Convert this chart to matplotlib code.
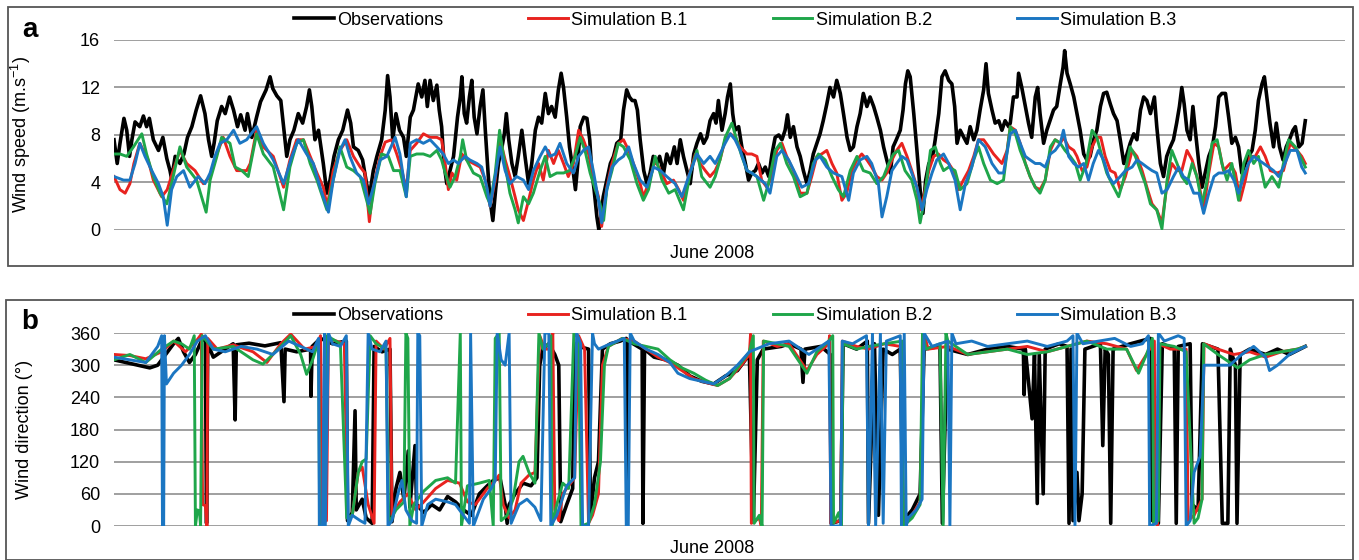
import matplotlib.pyplot as plt
from matplotlib.patches import Rectangle

plt.rcParams['font.family'] = ['Liberation Sans', 'DejaVu Sans']
plt.rcParams['mathtext.fontset'] = 'custom'
plt.rcParams['mathtext.rm'] = 'Liberation Sans'
plt.rcParams['mathtext.it'] = 'Liberation Sans'

# ---- panel a : wind speed (day of June 2008, m/s) ----
obs_speed = [(0.00,7.6),(0.08,5.6),(0.15,7.3),(0.25,9.4),(0.32,8.4),(0.39,6.2),(0.45,7.6),(0.53,9.1),(0.65,8.7),(0.74,9.6),(0.82,8.7),(0.89,9.4),(0.99,7.6),(1.12,6.7),(1.23,7.8),(1.33,6.0),(1.41,5.0),(1.45,4.3),(1.54,6.2),(1.66,5.6),(1.76,6.4),(1.85,7.8),(1.96,8.7),(2.07,10.1),(2.18,11.3),(2.29,9.8),(2.38,7.6),(2.46,6.2),(2.52,7.3),(2.60,9.2),(2.71,10.4),(2.80,9.8),(2.91,11.2),(3.01,10.1),(3.11,8.7),(3.19,9.7),(3.30,8.4),(3.36,9.8),(3.47,7.8),(3.59,9.5),(3.69,10.8),(3.83,11.8),(3.93,12.9),(4.00,11.9),(4.10,11.3),(4.20,10.9),(4.27,8.7),(4.35,6.2),(4.43,7.6),(4.53,8.4),(4.64,9.8),(4.75,9.0),(4.85,10.4),(4.92,11.8),(4.98,10.4),(5.06,7.6),(5.15,8.4),(5.27,5.6),(5.36,3.1),(5.44,4.2),(5.54,6.2),(5.65,7.6),(5.76,8.4),(5.88,10.1),(5.96,9.0),(6.03,7.0),(6.15,6.7),(6.26,5.9),(6.36,3.9),(6.43,2.8),(6.53,5.0),(6.62,6.2),(6.74,7.6),(6.83,10.1),(6.89,13.0),(6.95,11.2),(7.02,7.6),(7.10,9.8),(7.19,8.4),(7.29,7.8),(7.36,6.2),(7.46,9.5),
    (7.54,10.1),(7.66,12.3),(7.75,11.2),(7.83,12.6),(7.89,10.4),(7.96,12.6),(8.04,10.9),(8.13,12.2),(8.19,10.1),(8.25,8.7),(8.31,5.6),(8.38,3.9),(8.46,5.0),(8.55,6.2),(8.65,9.5),(8.72,11.2),(8.76,12.9),(8.82,9.8),(8.88,9.0),(8.95,11.2),(9.01,12.6),(9.07,9.5),(9.14,8.1),(9.22,10.4),(9.29,11.8),(9.35,8.4),(9.42,4.8),(9.47,2.5),(9.54,0.8),(9.61,3.4),(9.68,5.6),(9.77,7.0),(9.83,8.1),(9.88,9.8),(9.94,7.6),(10.02,5.6),(10.10,4.5),(10.18,6.2),(10.27,8.4),(10.35,6.2),(10.44,3.9),(10.52,5.6),(10.61,8.4),(10.69,9.5),(10.77,9.0),(10.86,11.5),(10.94,9.8),(11.02,10.4),(11.11,9.5),(11.19,11.8),(11.26,13.2),(11.32,12.0),(11.40,9.5),(11.47,7.0),(11.56,5.0),(11.62,3.4),(11.68,5.6),(11.74,8.7),(11.83,9.5),(11.91,9.4),(11.98,7.6),(12.03,5.0),(12.09,3.4),(12.16,1.1),(12.21,0.0),(12.26,1.1),(12.32,2.8),(12.41,4.2),(12.50,5.6),(12.58,6.2),(12.66,7.3),(12.76,7.6),(12.83,10.1),(12.91,11.8),(12.98,11.2),(13.05,10.9),(13.12,10.9),(13.18,10.1),(13.25,7.6),(13.34,5.0),(13.42,3.9),(13.50,4.8),(13.58,6.2),(13.67,5.6),(13.74,6.2),(13.84,4.8),(13.92,6.4),(14.01,5.6),(14.11,7.0),(14.18,5.6),(14.26,7.6),(14.34,6.2),(14.43,5.0),(14.51,3.9),(14.60,6.4),(14.68,7.3),(14.77,8.1),(14.85,7.3),(14.93,7.8),
    (15.01,9.2),(15.10,9.8),(15.16,9.0),(15.22,10.9),(15.31,8.4),(15.39,9.8),(15.45,11.2),(15.52,12.3),(15.58,9.8),(15.64,8.4),(15.73,8.7),(15.81,7.0),(15.90,5.6),(15.98,4.2),(16.06,4.8),(16.15,5.0),(16.23,5.6),(16.32,4.8),(16.40,5.3),(16.49,4.5),(16.57,6.4),(16.65,7.8),(16.74,8.0),(16.82,7.6),(16.90,8.4),(16.96,9.7),(17.03,7.8),(17.11,8.7),(17.20,7.0),(17.28,6.2),(17.36,5.0),(17.45,3.9),(17.53,5.0),(17.61,6.4),(17.70,7.3),(17.78,8.1),(17.86,9.2),(17.95,10.6),(18.03,12.0),(18.12,11.2),(18.20,12.6),(18.29,11.5),(18.37,9.8),(18.46,7.8),(18.54,6.7),(18.62,7.0),(18.71,8.7),(18.79,9.8),(18.87,11.5),(18.96,10.4),(19.04,11.2),(19.13,10.4),(19.21,9.5),(19.30,8.4),(19.38,7.0),(19.46,5.9),(19.55,4.8),(19.62,7.0),(19.70,7.6),(19.80,8.4),(19.87,10.1),(19.93,12.3),(19.99,13.4),(20.05,12.9),(20.14,9.8),(20.22,6.7),(20.30,3.4),(20.37,1.4),(20.44,4.2),(20.52,5.6),(20.60,5.9),(20.68,7.6),(20.77,9.8),(20.85,12.9),(20.93,13.4),(21.02,12.6),(21.10,12.3),(21.17,10.4),(21.23,7.3),(21.31,8.4),(21.40,7.8),(21.48,7.3),(21.56,8.7),(21.65,7.6),(21.73,8.4),(21.81,10.1),(21.90,11.8),(21.96,14.0),(22.02,11.5),(22.11,10.1),(22.19,9.0),(22.28,9.2),(22.36,8.4),(22.44,9.2),(22.53,8.7),
    (22.57,9.0),(22.65,11.2),(22.74,11.2),(22.78,13.2),(22.86,12.0),(22.94,10.6),(23.03,9.0),(23.11,7.8),(23.20,11.2),(23.26,12.0),(23.32,9.8),(23.41,7.3),(23.49,8.4),(23.57,9.2),(23.66,10.1),(23.74,10.4),(23.83,12.3),(23.90,13.7),(23.94,15.1),(24.00,13.2),(24.08,12.3),(24.17,11.2),(24.25,9.8),(24.33,8.4),(24.42,6.4),(24.50,5.9),(24.58,6.2),(24.67,7.6),(24.75,8.4),(24.84,10.4),(24.92,11.5),(25.00,11.6),(25.09,10.6),(25.17,9.8),(25.26,9.2),(25.34,7.6),(25.43,5.6),(25.51,6.4),(25.59,7.3),(25.68,8.1),(25.76,7.6),(25.85,10.1),(25.93,11.2),(26.01,10.9),(26.10,9.8),(26.20,11.2),(26.26,8.7),(26.35,5.6),(26.43,4.5),(26.51,6.2),(26.60,7.0),(26.68,7.6),(26.76,9.0),(26.83,10.4),(26.89,12.0),(26.95,10.6),(27.02,8.4),(27.10,7.6),(27.17,10.4),(27.23,8.4),(27.32,5.6),(27.40,3.6),(27.49,5.0),(27.57,6.2),(27.66,7.0),(27.74,8.7),(27.82,11.2),(27.90,11.5),(27.99,11.5),(28.07,9.5),(28.15,7.3),(28.24,7.8),(28.32,7.0),(28.40,4.8),(28.49,5.6),(28.57,6.2),(28.66,6.7),(28.74,8.4),(28.82,10.9),(28.91,12.3),(28.97,12.9),(29.03,11.2),(29.11,9.0),(29.20,7.0),(29.27,9.0),(29.35,7.0),(29.44,5.9),(29.52,7.0),(29.60,7.6),(29.69,8.4),(29.75,8.7),(29.84,7.0),(29.92,7.3),(30.00,9.2)]

b1_speed = [(0.00,4.5),(0.15,3.4),(0.28,3.1),(0.40,3.9),(0.50,5.6),(0.65,7.3),(0.74,6.7),(0.86,5.9),(0.99,4.2),(1.20,2.8),(1.34,3.4),(1.49,5.0),(1.66,6.7),(1.83,5.6),(2.04,5.0),(2.25,3.9),(2.42,4.5),(2.59,6.4),(2.75,7.8),(2.92,6.2),(3.09,5.0),(3.34,5.0),(3.43,5.6),(3.59,8.4),(3.76,7.0),(4.01,6.2),(4.27,3.6),(4.43,5.9),(4.60,7.6),(4.77,7.6),(4.94,6.2),(5.11,4.8),(5.27,3.6),(5.37,2.0),(5.52,5.0),(5.69,6.7),(5.86,7.6),(6.03,6.2),(6.20,5.3),(6.32,4.8),(6.43,0.7),(6.53,3.6),(6.70,6.2),(6.83,7.4),(6.99,7.6),(7.12,6.4),(7.25,5.0),(7.36,3.4),
    (7.46,6.7),(7.62,7.3),(7.79,8.1),(7.96,7.8),(8.13,7.8),(8.25,7.6),(8.34,5.6),(8.42,3.4),(8.51,4.8),(8.63,4.2),(8.76,6.4),(8.88,5.9),(9.05,5.6),(9.22,5.3),(9.35,4.2),(9.47,2.0),(9.60,4.2),(9.71,7.8),(9.85,5.9),(9.97,4.5),(10.10,2.8),(10.18,1.7),(10.31,0.8),(10.44,2.5),(10.56,4.2),(10.69,5.6),(10.81,4.2),(10.94,6.7),(11.07,5.6),(11.19,6.7),(11.32,5.6),(11.44,4.5),(11.57,5.6),(11.70,8.4),(11.82,7.6),(11.95,6.4),(12.08,4.2),(12.20,2.8),(12.28,0.3),(12.41,3.6),(12.54,5.6),(12.70,7.3),(12.83,7.6),(12.96,6.7),(13.08,5.6),(13.25,3.9),(13.33,2.8),(13.46,3.9),(13.63,5.9),(13.76,5.0),(13.92,3.9),(14.09,4.2),(14.22,3.4),(14.34,2.5),(14.47,4.5),(14.64,6.4),(14.76,5.6),(14.89,5.0),
    (15.01,4.5),(15.14,5.0),(15.26,5.9),(15.39,7.6),(15.52,8.1),(15.64,7.8),(15.77,7.0),(15.94,6.4),(16.06,6.4),(16.19,6.2),(16.31,4.2),(16.44,3.6),(16.57,4.5),(16.69,6.7),(16.82,7.3),(16.94,6.2),(17.11,5.0),(17.28,3.1),(17.45,3.1),(17.57,4.5),(17.70,6.2),(17.82,6.4),(17.95,6.7),(18.08,5.6),(18.20,4.8),(18.33,2.5),(18.45,3.1),(18.58,5.0),(18.71,5.9),(18.83,6.4),(18.96,5.9),(19.08,5.3),(19.21,4.5),(19.34,4.2),(19.46,4.8),(19.59,5.9),(19.71,6.7),(19.84,7.3),(19.97,6.2),(20.09,5.0),(20.22,3.6),(20.30,1.7),(20.39,2.8),(20.52,5.0),(20.64,6.2),(20.76,6.4),(20.89,5.9),(21.02,5.6),(21.14,5.0),(21.27,3.4),(21.39,4.2),(21.52,5.0),(21.65,6.2),(21.77,7.6),(21.90,7.6),(22.03,7.0),(22.15,6.4),(22.28,5.9),(22.36,5.6),(22.49,6.7),
    (22.57,8.7),(22.70,8.4),(22.82,7.3),(22.95,5.6),(23.07,4.5),(23.20,3.6),(23.32,3.4),(23.45,4.2),(23.58,6.7),(23.70,7.6),(23.83,7.3),(23.91,7.8),(24.04,7.0),(24.17,6.7),(24.25,6.2),(24.38,5.0),(24.50,5.3),(24.63,7.0),(24.75,7.8),(24.85,7.8),(24.96,6.2),(25.09,5.0),(25.21,4.8),(25.34,3.4),(25.47,4.5),(25.64,6.7),(25.76,6.2),(25.89,5.0),(26.01,3.6),(26.14,2.2),(26.26,1.7),(26.39,0.6),(26.52,3.9),(26.64,5.6),(26.77,5.0),(26.89,5.0),(27.02,6.7),(27.15,5.9),(27.32,3.9),(27.44,1.7),(27.57,4.8),(27.70,7.3),(27.82,7.0),(27.94,5.0),(28.11,5.6),(28.24,4.8),(28.36,2.5),(28.49,4.2),(28.61,6.2),(28.74,6.2),(28.87,7.0),(28.99,6.2),(29.12,5.0),(29.29,4.8),(29.45,5.0),(29.62,7.3),(29.79,6.7),(29.91,6.2),(30.00,5.6)]

b2_speed = [(0.00,6.4),(0.15,6.4),(0.32,6.2),(0.49,7.0),(0.70,8.1),(0.82,6.4),(0.99,4.5),(1.16,3.1),(1.33,2.2),(1.49,4.5),(1.66,7.0),(1.83,5.3),(2.08,4.2),(2.32,1.5),(2.42,4.2),(2.59,6.2),(2.71,7.8),(2.92,7.3),(3.05,5.3),(3.22,5.0),(3.38,4.5),(3.59,8.1),(3.76,6.4),(4.01,5.3),(4.27,1.7),(4.43,5.3),(4.60,7.3),(4.77,7.6),(4.94,5.6),(5.11,4.2),(5.36,1.7),(5.52,4.2),(5.69,7.0),(5.86,5.3),(6.03,5.0),(6.20,4.5),(6.36,2.5),(6.45,1.4),(6.57,3.9),(6.74,6.4),(6.91,6.2),(7.04,5.0),(7.20,5.0),(7.36,2.8),
    (7.46,6.2),(7.62,6.4),(7.79,6.4),(7.96,6.2),(8.13,6.7),(8.25,5.9),(8.34,4.8),(8.46,3.6),(8.59,4.5),(8.72,6.2),(8.78,7.6),(8.88,5.9),(9.05,4.8),(9.22,4.5),(9.39,2.8),(9.47,2.2),(9.60,4.8),(9.71,8.4),(9.81,6.2),(9.97,3.1),(10.10,1.7),(10.18,0.6),(10.31,2.8),(10.44,2.2),(10.56,3.1),(10.73,5.0),(10.86,6.2),(10.98,4.5),(11.15,4.8),(11.32,4.8),(11.47,5.0),(11.61,6.2),(11.74,7.8),(11.86,6.7),(11.99,4.8),(12.12,3.4),(12.24,2.2),(12.33,0.8),(12.41,3.4),(12.54,5.0),(12.70,7.3),(12.83,7.0),(13.00,5.9),(13.17,3.9),(13.33,2.5),(13.46,3.4),(13.63,6.2),(13.80,4.2),(13.97,3.1),(14.13,3.4),(14.34,1.7),(14.51,4.8),(14.68,6.7),(14.80,4.5),
    (15.01,3.6),(15.14,4.5),(15.26,5.9),(15.39,7.8),(15.56,9.0),(15.68,7.6),(15.81,6.2),(15.94,5.0),(16.06,4.8),(16.19,4.5),(16.36,2.5),(16.48,3.9),(16.65,6.7),(16.78,7.3),(16.94,5.6),(17.11,4.5),(17.28,2.8),(17.45,3.1),(17.61,5.6),(17.74,6.4),(17.91,5.9),(18.08,4.5),(18.24,3.4),(18.37,2.8),(18.54,5.0),(18.71,6.2),(18.87,5.0),(19.04,4.8),(19.21,3.9),(19.38,4.5),(19.51,5.6),(19.63,6.4),(19.76,6.7),(19.92,5.0),(20.09,4.2),(20.22,2.5),(20.30,0.6),(20.39,2.2),(20.56,6.7),(20.68,7.0),(20.81,5.6),(20.89,5.0),(21.02,5.3),(21.18,5.0),(21.31,3.4),(21.48,3.9),(21.65,5.9),(21.77,7.0),(21.90,5.6),(22.07,4.2),(22.24,3.9),(22.40,4.2),
    (22.57,8.7),(22.70,8.1),(22.82,6.7),(22.95,5.6),(23.07,4.5),(23.20,3.6),(23.32,3.1),(23.45,4.2),(23.58,7.0),(23.70,7.6),(23.83,7.3),(23.95,6.7),(24.08,6.2),(24.21,5.6),(24.33,4.2),(24.48,5.6),(24.63,8.4),(24.75,7.8),(24.88,6.2),(25.00,4.8),(25.13,3.9),(25.30,2.8),(25.42,4.2),(25.59,7.0),(25.72,6.2),(25.85,5.0),(25.97,3.9),(26.10,2.2),(26.26,1.7),(26.39,0.1),(26.52,4.2),(26.64,6.7),(26.77,5.6),(26.89,4.5),(27.02,3.9),(27.15,5.6),(27.27,4.5),(27.40,2.2),(27.53,4.2),(27.65,7.3),(27.78,7.6),(27.90,5.6),(28.03,4.2),(28.15,5.6),(28.32,2.5),(28.45,5.6),(28.57,6.7),(28.70,5.6),(28.82,6.2),(28.99,3.6),(29.16,4.5),(29.33,3.6),(29.45,5.6),(29.58,7.6),(29.75,7.0),(29.87,6.2),(30.00,5.3)]

b3_speed = [(0.00,4.5),(0.24,4.2),(0.40,4.2),(0.53,5.6),(0.65,7.3),(0.78,6.2),(0.95,5.0),(1.12,3.9),(1.24,2.8),(1.34,0.4),(1.45,3.4),(1.58,4.5),(1.75,5.0),(1.91,3.6),(2.12,4.5),(2.29,3.9),(2.42,4.8),(2.54,6.2),(2.67,7.3),(2.84,7.6),(3.01,8.4),(3.17,7.3),(3.34,7.6),(3.59,8.7),(3.76,7.3),(4.01,5.9),(4.27,3.9),(4.48,6.2),(4.64,7.6),(4.85,6.4),(5.02,5.6),(5.19,3.6),(5.40,1.5),(5.52,4.2),(5.69,6.7),(5.82,7.6),(5.94,6.2),(6.11,4.8),(6.28,4.2),(6.41,2.2),(6.53,3.6),(6.70,5.9),(6.87,6.2),(7.08,7.8),(7.20,6.4),(7.36,2.8),
    (7.46,7.3),(7.62,7.6),(7.79,7.3),(7.96,7.6),(8.13,7.0),(8.29,6.4),(8.42,5.6),(8.55,5.9),(8.67,5.6),(8.84,6.2),(8.96,5.9),(9.14,5.6),(9.26,5.3),(9.39,3.6),(9.47,2.0),(9.60,4.5),(9.72,7.0),(9.85,5.0),(9.97,3.9),(10.14,4.5),(10.31,4.2),(10.44,3.4),(10.56,5.0),(10.73,6.2),(10.86,7.0),(10.98,6.2),(11.11,6.4),(11.23,7.3),(11.40,5.6),(11.57,4.8),(11.70,6.2),(11.82,6.7),(11.95,7.0),(12.08,4.8),(12.20,2.5),(12.28,0.6),(12.41,3.4),(12.54,5.3),(12.70,5.9),(12.83,6.2),(12.96,7.0),(13.08,5.6),(13.25,4.2),(13.42,3.6),(13.59,5.3),(13.76,5.0),(13.92,4.5),(14.13,3.9),(14.30,2.8),(14.47,4.5),(14.68,6.4),(14.85,5.6),
    (15.01,6.2),(15.14,5.6),(15.26,6.4),(15.39,7.3),(15.52,8.1),(15.64,7.6),(15.77,6.7),(15.94,5.0),(16.06,4.8),(16.19,4.5),(16.40,3.9),(16.52,3.1),(16.69,6.2),(16.82,6.7),(16.99,5.9),(17.15,4.8),(17.32,3.6),(17.49,3.9),(17.66,5.9),(17.78,6.2),(17.95,5.3),(18.12,4.8),(18.33,4.5),(18.50,2.5),(18.62,4.8),(18.79,5.9),(18.96,6.2),(19.08,5.6),(19.25,3.9),(19.34,1.1),(19.46,2.8),(19.59,5.0),(19.71,5.6),(19.84,6.2),(19.97,5.9),(20.09,4.8),(20.22,3.6),(20.35,1.7),(20.47,3.4),(20.60,4.8),(20.72,5.9),(20.89,6.4),(21.02,5.6),(21.18,4.2),(21.31,1.7),(21.44,3.9),(21.60,5.3),(21.77,7.6),(21.94,7.0),(22.11,5.6),(22.28,4.8),(22.40,4.8),
    (22.57,8.1),(22.70,8.4),(22.82,7.3),(22.95,6.2),(23.07,5.9),(23.20,5.6),(23.32,5.6),(23.45,5.3),(23.58,6.4),(23.70,6.7),(23.83,7.3),(23.91,8.4),(24.04,6.2),(24.17,5.6),(24.29,5.3),(24.42,5.6),(24.54,4.2),(24.66,5.6),(24.79,6.7),(24.92,5.9),(25.05,4.5),(25.17,3.9),(25.34,4.5),(25.47,5.0),(25.64,5.3),(25.76,5.9),(25.89,5.6),(26.01,5.3),(26.14,5.0),(26.26,4.8),(26.39,3.1),(26.52,3.4),(26.68,4.5),(26.81,5.3),(26.93,4.5),(27.06,4.2),(27.19,3.1),(27.32,3.1),(27.44,1.4),(27.57,3.1),(27.70,4.5),(27.82,4.8),(27.94,4.8),(28.07,5.0),(28.20,4.2),(28.32,3.1),(28.45,4.5),(28.57,5.6),(28.70,6.2),(28.82,5.9),(28.95,5.6),(29.08,5.3),(29.20,5.0),(29.33,4.5),(29.45,5.3),(29.62,6.7),(29.79,6.7),(29.91,5.3),(30.00,4.8)]

# ---- panel b : wind direction (day, degrees) ----
obs_dir = [(0.00,310),(0.30,305),(0.60,300),(0.90,295),(1.10,300),(1.30,320),(1.50,340),(1.62,350),(1.75,325),(1.90,305),(2.05,320),(2.20,345),(2.30,350),(2.33,5),(2.36,340),(2.50,315),(2.80,330),(3.00,340),(3.05,198),(3.08,338),(3.40,341),(3.80,336),(4.20,342),(4.28,232),(4.31,330),(4.60,325),(4.95,330),(4.96,242),(4.99,335),(5.20,350),(5.50,340),(5.85,345),(5.88,10),(6.00,25),(6.07,215),(6.10,30),(6.25,50),(6.35,15),(6.50,5),(6.55,335),(6.75,325),(6.95,330),(7.00,8),(7.10,70),(7.20,100),(7.30,50),(7.41,140),(7.45,35),(7.58,150),(7.62,40),(7.80,25),(8.00,40),(8.20,30),(8.40,55),(8.60,45),(8.80,30),(9.00,20),(9.20,60),(9.40,75),(9.55,85),(9.72,90),(9.85,40),(9.90,5),(9.95,40),(10.10,60),(10.30,80),(10.50,75),(10.65,90),(10.72,300),(10.80,330),(10.95,340),(11.10,320),(11.20,300),(11.25,8),(11.40,40),(11.55,70),(11.60,340),(11.70,335),(11.95,330),(12.00,20),(12.10,90),(12.20,120),(12.30,330),(12.50,340),(12.75,345),(12.90,350),(12.92,10),(12.96,345),(13.30,330),(13.32,5),(13.36,330),(13.60,315),(13.90,310),(14.20,300),(14.50,280),(14.80,270),(15.10,265),(15.40,280),(15.70,290),(16.00,320),(16.10,8),(16.20,310),(16.35,330),(16.80,335),(17.00,340),(17.30,330),(17.35,268),(17.40,330),(17.80,335),(18.04,320),(18.06,5),(18.30,10),(18.36,340),(18.70,330),(18.97,345),(19.00,5),(19.15,340),(19.25,20),(19.37,330),(19.60,320),(19.80,330),(19.87,10),(20.10,30),(20.30,60),(20.40,330),(20.80,335),(20.86,5),(20.98,330),(21.50,320),(22.00,330),(22.50,335),(22.90,330),(22.92,245),(22.95,330),(23.12,200),(23.18,320),(23.25,42),(23.30,320),(23.40,60),(23.45,330),(23.80,340),(24.00,335),(24.05,5),(24.10,330),(24.15,10),(24.25,100),(24.30,10),(24.38,60),(24.45,330),(24.84,340),(24.90,150),(24.96,330),(25.04,320),(25.10,5),(25.16,330),(25.60,340),(26.10,350),(26.15,10),(26.30,5),(26.40,340),(26.70,330),(26.75,5),(26.80,335),(27.10,340),(27.15,40),(27.30,30),(27.41,340),(27.80,330),(27.91,5),(28.05,5),(28.11,330),(28.24,300),(28.28,5),(28.36,320),(28.60,330),(29.00,320),(29.30,330),(29.60,320),(30.00,335)]

b1_dir = [(0.00,320),(0.40,318),(0.80,312),(1.20,325),(1.50,345),(1.80,325),(2.10,348),(2.20,358),(2.23,40),(2.30,38),(2.34,0),(2.36,350),(2.60,330),(3.00,338),(3.50,325),(3.85,305),(4.20,340),(4.45,358),(4.80,330),(5.10,335),(5.20,355),(5.25,5),(5.35,10),(5.40,350),(5.80,340),(5.88,15),(6.00,20),(6.15,100),(6.25,110),(6.40,40),(6.55,5),(6.60,345),(6.80,330),(6.95,350),(7.00,20),(7.20,45),(7.40,60),(7.60,30),(7.80,45),(8.10,70),(8.40,85),(8.70,80),(8.90,45),(9.10,40),(9.40,70),(9.60,85),(9.70,95),(9.80,40),(9.95,15),(10.10,30),(10.25,80),(10.45,95),(10.60,100),(10.72,355),(10.85,330),(11.00,330),(11.05,360),(11.10,30),(11.20,10),(11.30,60),(11.50,80),(11.60,90),(11.70,355),(11.85,330),(11.95,5),(12.05,20),(12.20,60),(12.30,300),(12.45,335),(12.80,350),(13.10,345),(13.40,330),(13.70,315),(14.00,305),(14.30,290),(14.60,275),(14.90,268),(15.20,262),(15.50,275),(15.80,300),(16.00,320),(16.03,358),(16.05,5),(16.25,15),(16.30,0),(16.35,345),(16.70,335),(17.00,340),(17.45,290),(17.70,320),(18.00,340),(18.02,355),(18.05,5),(18.30,10),(18.34,345),(18.70,335),(19.00,330),(19.40,340),(19.80,335),(19.88,5),(20.05,15),(20.30,45),(20.40,360),(20.50,330),(21.00,335),(21.50,320),(22.00,325),(22.50,330),(23.00,335),(23.50,325),(24.00,335),(24.50,345),(25.00,340),(25.50,330),(25.75,290),(26.00,320),(26.20,345),(26.22,10),(26.28,0),(26.30,340),(26.60,330),(27.00,330),(27.05,10),(27.20,20),(27.40,50),(27.45,340),(27.80,330),(28.20,320),(28.60,325),(29.00,315),(29.40,325),(29.80,330),(30.00,335)]

b2_dir = [(0.00,310),(0.40,320),(0.80,305),(1.20,330),(1.50,345),(1.70,340),(1.90,330),(2.02,355),(2.05,0),(2.10,30),(2.15,28),(2.18,0),(2.22,355),(2.50,330),(3.00,335),(3.50,310),(3.75,302),(4.20,335),(4.45,355),(4.70,320),(4.85,283),(5.00,310),(5.15,345),(5.18,0),(5.30,0),(5.36,355),(5.70,340),(5.86,15),(6.00,20),(6.15,100),(6.25,120),(6.35,125),(6.45,355),(6.60,340),(6.85,330),(6.92,5),(7.10,30),(7.30,45),(7.35,360),(7.40,350),(7.45,0),(7.55,40),(7.80,65),(8.10,85),(8.40,90),(8.60,80),(8.72,360),(8.75,0),(8.90,75),(9.20,80),(9.45,85),(9.55,0),(9.60,350),(9.70,360),(9.75,10),(9.90,20),(10.05,50),(10.20,120),(10.30,130),(10.45,100),(10.60,80),(10.70,360),(10.80,330),(10.95,340),(11.00,355),(11.03,0),(11.15,40),(11.30,80),(11.45,70),(11.58,360),(11.70,350),(11.76,0),(11.95,5),(12.10,40),(12.25,120),(12.35,300),(12.45,335),(12.80,350),(13.10,340),(13.40,335),(13.70,330),(14.00,310),(14.30,295),(14.60,285),(14.90,272),(15.20,262),(15.50,275),(15.80,305),(16.00,325),(16.10,355),(16.12,5),(16.25,20),(16.32,0),(16.36,345),(16.70,340),(17.00,335),(17.45,285),(17.70,325),(18.00,345),(18.10,355),(18.12,5),(18.25,25),(18.32,0),(18.36,340),(18.70,330),(19.00,335),(19.40,340),(19.85,345),(19.88,0),(20.10,15),(20.30,40),(20.36,360),(20.45,330),(20.80,340),(20.88,0),(20.95,360),(21.00,345),(21.50,320),(22.00,325),(22.50,330),(23.00,320),(23.50,325),(24.00,335),(24.50,345),(25.00,330),(25.50,330),(25.80,285),(26.00,320),(26.15,350),(26.18,5),(26.30,10),(26.34,340),(26.70,335),(27.00,325),(27.20,5),(27.30,15),(27.40,50),(27.44,340),(27.80,320),(28.00,310),(28.30,295),(28.60,310),(29.00,320),(29.40,325),(29.80,330),(30.00,335)]

b3_dir = [(0.00,315),(0.40,310),(0.80,305),(1.10,335),(1.20,355),(1.22,0),(1.25,0),(1.27,355),(1.32,265),(1.50,285),(1.70,300),(1.90,320),(2.10,345),(2.30,355),(2.50,330),(2.80,325),(3.20,335),(3.60,330),(4.00,320),(4.40,345),(4.70,335),(5.00,325),(5.15,350),(5.17,0),(5.25,0),(5.30,360),(5.32,0),(5.40,360),(5.50,340),(5.70,335),(5.85,355),(5.90,0),(6.00,20),(6.20,10),(6.32,5),(6.40,360),(6.50,330),(6.70,325),(6.85,345),(6.90,0),(7.00,10),(7.15,60),(7.25,85),(7.35,30),(7.50,10),(7.62,5),(7.65,360),(7.70,355),(7.75,0),(7.90,40),(8.10,50),(8.40,45),(8.60,40),(8.80,20),(8.95,5),(8.98,360),(9.05,0),(9.30,50),(9.50,70),(9.60,85),(9.65,360),(9.75,310),(9.85,300),(9.95,360),(10.00,5),(10.20,40),(10.40,50),(10.60,35),(10.75,10),(10.85,360),(10.95,360),(11.00,0),(11.15,20),(11.40,75),(11.60,90),(11.65,360),(11.75,340),(11.80,0),(11.95,0),(12.05,360),(12.10,340),(12.20,330),(12.50,340),(12.85,350),(12.90,0),(12.95,0),(13.00,360),(13.10,345),(13.40,330),(13.70,320),(14.00,305),(14.20,285),(14.50,275),(14.80,270),(15.10,265),(15.40,280),(15.70,300),(16.00,325),(16.50,340),(17.00,345),(17.50,320),(18.00,345),(18.06,0),(18.30,0),(18.34,345),(18.60,340),(18.95,355),(19.00,0),(19.10,360),(19.18,0),(19.30,360),(19.37,5),(19.45,345),(19.80,355),(19.83,0),(19.90,360),(19.95,0),(20.00,15),(20.20,30),(20.35,50),(20.40,360),(20.60,335),(21.00,345),(21.05,0),(21.10,360),(21.20,340),(21.60,345),(22.00,335),(22.50,340),(23.00,345),(23.50,335),(24.00,345),(24.15,355),(24.20,0),(24.25,360),(24.40,340),(24.80,345),(25.20,350),(25.60,335),(25.90,340),(26.05,355),(26.08,0),(26.25,5),(26.30,360),(26.45,345),(26.80,355),(26.95,350),(27.00,0),(27.10,10),(27.20,100),(27.35,130),(27.45,300),(27.80,300),(28.10,300),(28.40,320),(28.70,335),(29.00,315),(29.10,290),(29.30,300),(29.60,320),(30.00,335)]

labels = ['Observations', 'Simulation B.1', 'Simulation B.2', 'Simulation B.3']
colors = ['black', '#e8231f', '#1fa64a', '#1b76c2']
widths = [2.6, 2.1, 2.1, 2.1]

fig = plt.figure(figsize=(13.59, 5.60), dpi=100)

# frames around each panel
fig.patches.append(Rectangle((0.0059, 0.525), 0.9897, 0.4625, transform=fig.transFigure,
                             fill=False, edgecolor='#555555', linewidth=1.3))
fig.patches.append(Rectangle((0.0044, 0.0005), 0.9912, 0.4638, transform=fig.transFigure,
                             fill=False, edgecolor='#555555', linewidth=1.3))

ax1 = fig.add_axes([0.0839, 0.5893, 0.9058, 0.3393])
ax2 = fig.add_axes([0.0839, 0.0607, 0.9058, 0.3446])

for ax, series in [(ax1, [obs_speed, b1_speed, b2_speed, b3_speed]),
                   (ax2, [obs_dir, b1_dir, b2_dir, b3_dir])]:
    for s, lab, c, lw in zip(series, labels, colors, widths):
        x = [p[0] for p in s]
        y = [p[1] for p in s]
        ax.plot(x, y, color=c, lw=lw, label=lab)
    ax.set_xlim(0, 31)
    ax.set_xticks([])
    for sp in ax.spines.values():
        sp.set_visible(False)
    ax.grid(axis='y', color='#8f8f8f', linewidth=1.2)
    ax.set_axisbelow(True)
    ax.tick_params(axis='y', length=0, pad=10, labelsize=13)

ax1.set_ylim(0, 16)
ax1.set_yticks([0, 4, 8, 12, 16])
ax1.set_ylabel('Wind speed (m.s$^{-1}$)', fontsize=13)
ax1.yaxis.set_label_coords(-0.066, 0.5)

ax2.set_ylim(0, 360)
ax2.set_yticks([0, 60, 120, 180, 240, 300, 360])
ax2.set_ylabel('Wind direction (°)', fontsize=13)
ax2.yaxis.set_label_coords(-0.066, 0.5)

for ax, ly in [(ax1, 0.964), (ax2, 0.436)]:
    ax.legend(loc='center', bbox_to_anchor=(0.541, ly), bbox_transform=fig.transFigure,
              ncol=4, frameon=False, fontsize=13, handlelength=2.2, handletextpad=0.2,
              columnspacing=4.7)

fig.text(0.524, 0.548, 'June 2008', ha='center', va='center', fontsize=13)
fig.text(0.524, 0.021, 'June 2008', ha='center', va='center', fontsize=13)
fig.text(0.022, 0.946, 'a', ha='center', va='center', fontsize=20, fontweight='bold')
fig.text(0.022, 0.425, 'b', ha='center', va='center', fontsize=20, fontweight='bold')

fig.savefig('out.png', dpi=100)
